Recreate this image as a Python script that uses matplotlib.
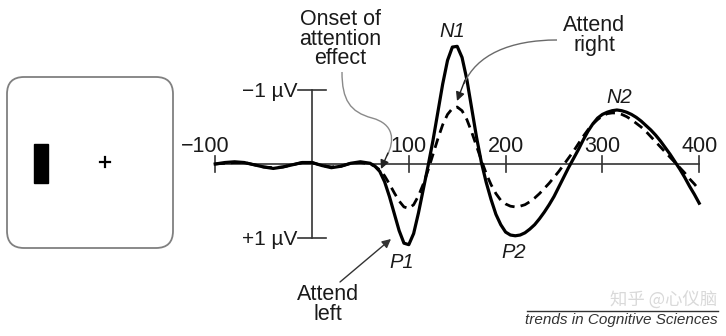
import matplotlib
matplotlib.use('Agg')
import matplotlib.pyplot as plt
from matplotlib.patches import FancyBboxPatch, Rectangle, PathPatch, FancyArrowPatch
from matplotlib.path import Path

plt.rcParams['font.family'] = ['Liberation Sans', 'DejaVu Sans']

# ---------------- data (ms, microvolts; negative = up) ----------------
times = list(range(-100, 60, 10)) + list(range(60, 401, 5))

attend_left = [  # solid line
    0.00, -0.02, -0.03, -0.02, 0.01, 0.04, 0.06, 0.04, 0.01, -0.02, -0.02, 0.02, 0.05, 0.03, -0.01, -0.03,
    -0.01, 0.03, 0.10, 0.24, 0.44, 0.67, 0.90, 1.07, 1.09, 0.94, 0.66, 0.34, 0.02,
    -0.32, -0.70, -1.08, -1.40, -1.58, -1.59, -1.44, -1.14, -0.75, -0.36, -0.02,
    0.25, 0.48, 0.68, 0.82, 0.92, 0.96, 0.97, 0.96, 0.93, 0.88, 0.82, 0.74, 0.65, 0.55, 0.44,
    0.31, 0.18, 0.05, -0.07, -0.19, -0.32, -0.44, -0.54, -0.62, -0.67, -0.70, -0.72, -0.73,
    -0.72, -0.70, -0.67, -0.63, -0.58, -0.52, -0.46, -0.39, -0.31, -0.22, -0.13, -0.03,
    0.07, 0.18, 0.30, 0.41, 0.53]

attend_right = [  # dashed line
    0.00, -0.01, -0.02, -0.02, 0.01, 0.04, 0.05, 0.04, 0.01, -0.02, -0.02, 0.02, 0.04, 0.03, -0.01, -0.02,
    0.00, 0.03, 0.08, 0.16, 0.27, 0.39, 0.50, 0.58, 0.60, 0.55, 0.43, 0.27, 0.08,
    -0.13, -0.34, -0.53, -0.67, -0.75, -0.77, -0.72, -0.60, -0.43, -0.24, -0.05,
    0.13, 0.28, 0.40, 0.49, 0.54, 0.57, 0.58, 0.57, 0.55, 0.51, 0.46, 0.40, 0.33, 0.26, 0.18,
    0.10, 0.01, -0.08, -0.17, -0.27, -0.37, -0.46, -0.54, -0.60, -0.65, -0.68, -0.69, -0.69,
    -0.67, -0.64, -0.60, -0.55, -0.50, -0.44, -0.37, -0.30, -0.23, -0.16, -0.09, -0.02,
    0.05, 0.12, 0.20, 0.27, 0.35]

tick_values = [-100, 100, 200, 300, 400]
tick_labels = ['\u2212100', '100', '200', '300', '400']
scale_values = [-1, 1]
scale_labels = ['\u22121 \u00b5V', '+1 \u00b5V']
peak_labels = ['N1', 'P1', 'P2', 'N2']

# ---------------- figure ----------------
W, H = 726, 336
fig = plt.figure(figsize=(W / 100, H / 100), dpi=100)

PX_PER_MS = 0.968
X0 = 312
PX_PER_UV = 74
Y0 = 164

ax = fig.add_axes([0, 0, 1, 1])
ax.set_xlim(-X0 / PX_PER_MS, (W - X0) / PX_PER_MS)
ax.set_ylim((H - Y0) / PX_PER_UV, -Y0 / PX_PER_UV)
ax.axis('off')

axp = fig.add_axes([0, 0, 1, 1])
axp.set_xlim(0, W)
axp.set_ylim(H, 0)
axp.axis('off')
axp.patch.set_alpha(0)

ink = '#1a1a1a'
axc = '#333333'
fs = 15.5

# x axis
ax.plot([tick_values[0], tick_values[-1]], [0, 0], color=axc, lw=1.2, zorder=2)
for t in tick_values:
    ax.plot([t, t], [-0.11, 0.11], color=axc, lw=1.2, zorder=2)
# scale bar
ax.plot([0, 0], scale_values, color=axc, lw=1.2, zorder=2)
for v in scale_values:
    ax.plot([-14, 14], [v, v], color=axc, lw=1.2, zorder=2)

# curves
ax.plot(times, attend_left, color='black', lw=2.3, zorder=3, solid_joinstyle='round')
ax.plot(times, attend_right, color='black', lw=2.0, ls=(0, (3.5, 2.2)), zorder=4)

# tick labels (pixel overlay, baseline at y=152)
for t, lab in zip(tick_values, tick_labels):
    px = X0 + t * PX_PER_MS
    if t < 0:
        axp.text(px + 14, 152, lab, ha='right', va='baseline', fontsize=fs, color=ink)
    else:
        axp.text(px, 152, lab, ha='center', va='baseline', fontsize=fs, color=ink)

for v, lab in zip(scale_values, scale_labels):
    py = Y0 + v * PX_PER_UV + 7
    axp.text(297, py, lab, ha='right', va='baseline', fontsize=15, color=ink)

# peak labels
peak_pos = [(452, 37), (402, 268), (514, 258), (619, 103)]
for lab, (x, y) in zip(peak_labels, peak_pos):
    axp.text(x, y, lab, ha='center', va='baseline', fontsize=14.5, style='italic', color=ink)

# annotation texts (multi-line, tight leading)
axp.text(340, 64, 'Onset of\nattention\neffect', ha='center', va='baseline',
         multialignment='center', fontsize=fs, color=ink, linespacing=0.9)
axp.text(594, 51, 'Attend\nright', ha='center', va='baseline',
         multialignment='center', fontsize=fs, color=ink, linespacing=0.95)
axp.text(328, 320, 'Attend\nleft', ha='center', va='baseline',
         multialignment='center', fontsize=fs, color=ink, linespacing=0.95)

# onset arrow (curvy gray line + black head)
onset = Path([(342, 72), (342, 100), (350, 112), (372, 118),
              (394, 124), (395, 140), (387, 156)],
             [Path.MOVETO, Path.CURVE4, Path.CURVE4, Path.CURVE4,
              Path.CURVE4, Path.CURVE4, Path.CURVE4])
axp.add_patch(PathPatch(onset, fc='none', ec='#8a8a8a', lw=1.0, zorder=5))
axp.add_patch(FancyArrowPatch((388, 153), (381, 169), arrowstyle='-|>', mutation_scale=13,
                              color='#222222', lw=1.0, zorder=6, shrinkA=0, shrinkB=0))

# attend right arrow
right_path = Path([(557, 40), (510, 40), (476, 55), (464, 84)],
                  [Path.MOVETO, Path.CURVE4, Path.CURVE4, Path.CURVE4])
axp.add_patch(PathPatch(right_path, fc='none', ec='#6a6a6a', lw=1.0, zorder=5))
axp.add_patch(FancyArrowPatch((465, 80), (457, 101), arrowstyle='-|>', mutation_scale=13,
                              color='#222222', lw=1.0, zorder=6, shrinkA=0, shrinkB=0))

# attend left arrow
axp.add_patch(FancyArrowPatch((340, 282), (391, 239), arrowstyle='-|>', mutation_scale=13,
                              color='#333333', lw=1.0, zorder=6, shrinkA=0, shrinkB=0))

# stimulus display
axp.add_patch(FancyBboxPatch((7, 77), 166, 171, boxstyle='round,pad=0,rounding_size=17',
                             fc='white', ec='#808080', lw=1.3))
axp.add_patch(Rectangle((34, 144), 14, 39, color='black'))
axp.plot([100, 110], [162, 162], color='black', lw=1.6)
axp.plot([105, 105], [157, 167], color='black', lw=1.6)

# journal credit
axp.plot([527, 718], [311, 311], color='#333333', lw=1.0, zorder=2)
axp.text(718, 324, 'trends in Cognitive Sciences', ha='right', va='baseline',
         fontsize=11, style='italic', color='#333333')
axp.text(717, 306, '\u77e5\u4e4e @\u5fc3\u4eea\u8111', ha='right', va='baseline', fontsize=12.5,
         family=['Noto Sans CJK SC', 'DejaVu Sans'], color='#d9d9d9', zorder=7)

fig.savefig('out.png', dpi=100)
